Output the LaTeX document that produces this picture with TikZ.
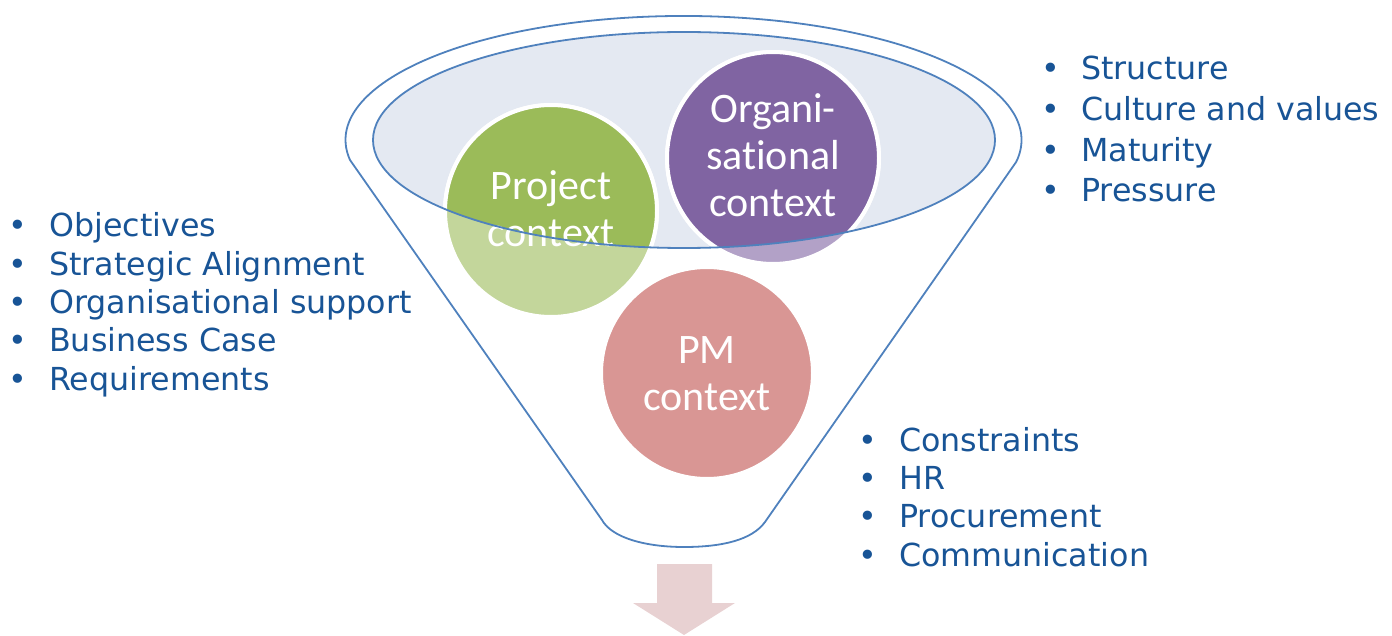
\documentclass[tikz,border=0pt]{standalone}
\usepackage{fontspec}
\newfontfamily\listfont{DejaVu Sans}
\newfontfamily\circfont[Ligatures=NoCommon]{Carlito}
\definecolor{listblue}{RGB}{24,84,150}
\definecolor{funnelblue}{RGB}{79,129,189}
\definecolor{ellfill}{RGB}{228,233,242}
\definecolor{greenA}{RGB}{155,187,89}
\definecolor{greenB}{RGB}{195,214,155}
\definecolor{purpleA}{RGB}{128,100,162}
\definecolor{purpleB}{RGB}{178,161,199}
\definecolor{pinkA}{RGB}{217,150,148}
\definecolor{arrowpink}{RGB}{232,209,210}
\tikzset{
  circ/.style={circle, minimum size=212pt, inner sep=0pt, draw=white, line width=4pt},
  ctext/.style={anchor=base, inner sep=0pt, text=white, font=\circfont\fontsize{42}{46}\selectfont},
  item/.style={anchor=base west, inner sep=0pt, text=listblue, font=\listfont\fontsize{31.7}{38}\selectfont},
  bul/.style={anchor=base, inner sep=0pt, text=listblue, font=\listfont\fontsize{31.7}{38}\selectfont},
  outline/.style={draw=funnelblue, line width=1.8pt},
}
\begin{document}
\begin{tikzpicture}[x=1pt, y=-1pt]
\useasboundingbox (0,0) rectangle (1392,636);
% inner ellipse fill
\fill[ellfill] (684,140) ellipse [x radius=311pt, y radius=108pt];
% circles (light, outside the ellipse)
\node[circ, fill=greenB] (proj) at (551,211) {};
\node[circ, fill=purpleB] (org) at (773,158) {};
\node[circ, fill=pinkA] (pm) at (707,373) {};
% full colours inside the ellipse
\begin{scope}
  \clip (684,140) ellipse [x radius=311pt, y radius=108pt];
  \node[circ, fill=greenA] (projin) at (551,211) {};
  \node[circ, fill=purpleA] (orgin) at (773,158) {};
\end{scope}
% circle texts
\node[ctext] (p1) at (551,200) {Project};
\node[ctext] (p2) at (551,247) {context};
\node[ctext] (o1) at (773,123) {Organi-};
\node[ctext] (o2) at (773,170) {sational};
\node[ctext] (o3) at (773,217) {context};
\node[ctext] (m1) at (707,363) {PM};
\node[ctext] (m2) at (707,410) {context};
% inner ellipse outline
\draw[outline] (684,140) ellipse [x radius=311pt, y radius=108pt];
% funnel outline
\draw[outline, line join=round] (350,160) arc[start angle=189.3, end angle=-10.2, x radius=338pt, y radius=124pt]
  -- (765,522) .. controls (752,540) and (722,547) .. (684,547)
  .. controls (646,547) and (612,538) .. (602,520) -- cycle;
% arrow
\fill[arrowpink] (657,564) -- (712,564) -- (712,603) -- (735,603) -- (684,635) -- (633,603) -- (657,603) -- cycle;
% left list
\node[bul] (lb1) at (18,237) {•};
\node[item] (l1) at (49,237) {Objectives};
\node[bul] (lb2) at (18,275.3) {•};
\node[item] (l2) at (49,275.3) {Strategic Alignment};
\node[bul] (lb3) at (18,313.6) {•};
\node[item] (l3) at (49,313.6) {Organisational support};
\node[bul] (lb4) at (18,351.9) {•};
\node[item] (l4) at (49,351.9) {Business Case};
\node[bul] (lb5) at (18,390.2) {•};
\node[item] (l5) at (49,390.2) {Requirements};
% top right list
\node[bul] (rb1) at (1051,80) {•};
\node[item] (r1) at (1081,80) {Structure};
\node[bul] (rb2) at (1051,120.7) {•};
\node[item] (r2) at (1081,120.7) {Culture and values};
\node[bul] (rb3) at (1051,161.3) {•};
\node[item] (r3) at (1081,161.3) {Maturity};
\node[bul] (rb4) at (1051,202) {•};
\node[item] (r4) at (1081,202) {Pressure};
% bottom right list
\node[bul] (bb1) at (868,451) {•};
\node[item] (b1) at (899,451) {Constraints};
\node[bul] (bb2) at (868,489.3) {•};
\node[item] (b2) at (899,489.3) {HR};
\node[bul] (bb3) at (868,527.6) {•};
\node[item] (b3) at (899,527.6) {Procurement};
\node[bul] (bb4) at (868,566) {•};
\node[item] (b4) at (899,566) {Communication};
\end{tikzpicture}
\end{document}
